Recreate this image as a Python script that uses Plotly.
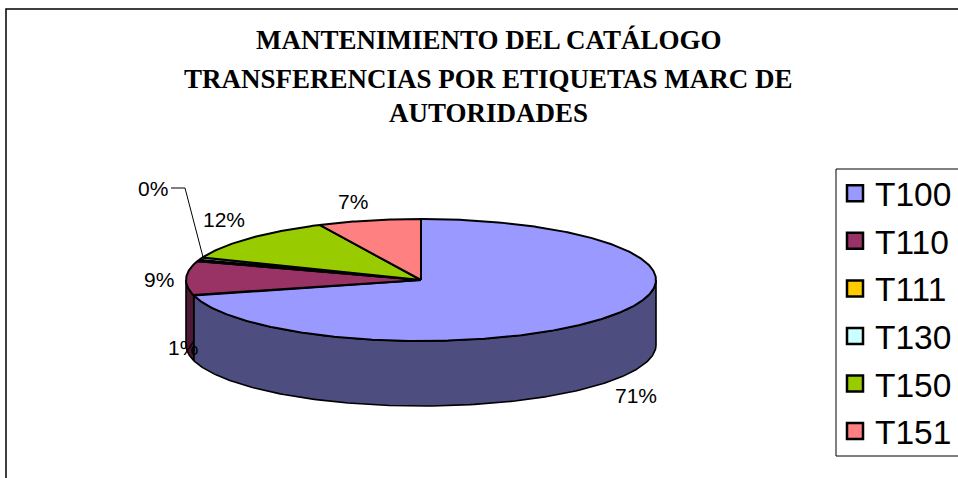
import numpy as np
import plotly.graph_objects as go

categories = ["T100", "T110", "T111", "T130", "T150", "T151"]
values = [70.9, 9.1, 0.4, 0.6, 11.9, 7.1]
pct_labels = ["71%", "9%", "0%", "1%", "12%", "7%"]
top_colors = ["#9999FF", "#993366", "#FFCC00", "#CCFFFF", "#99CC00", "#FF8080"]
side_colors = ["#4D4D80", "#4D1933", "#806600", "#668080", "#4D6600", "#804040"]
title_lines = ["MANTENIMIENTO DEL CATÁLOGO", "TRANSFERENCIAS POR ETIQUETAS MARC DE", "AUTORIDADES"]

W, H = 958, 478
CX, CY, RX, RY, DEPTH = 421, 280, 235, 61, 65
LABEL_POS = [(636, 395), (159, 279), (153, 188), (183, 347), (224, 219), (353, 201)]
TITLE_Y = [40, 79, 113]
LEGEND_BOX = ([W, 836, 836, W], [169, 169, 456, 456])


def ex(t):
    return CX + RX * np.sin(t)


def ey(t):
    return CY - RY * np.cos(t)


total = sum(values)
edges = np.concatenate([[0], np.cumsum(values)]) / total * 2 * np.pi

fig = go.Figure()

# side walls, visible only on the front half of the disc
for i, name in enumerate(categories):
    a, b = max(edges[i], np.pi / 2), min(edges[i + 1], 3 * np.pi / 2)
    if b <= a:
        continue
    t = np.linspace(a, b, 160)
    xs = np.concatenate([ex(t), ex(t[::-1])])
    ys = np.concatenate([ey(t), ey(t[::-1]) + DEPTH])
    fig.add_trace(go.Scatter(x=np.append(xs, xs[0]), y=np.append(ys, ys[0]), mode="lines",
                             fill="toself", fillcolor=side_colors[i],
                             line=dict(color="black", width=1.6), showlegend=False, hoverinfo="skip"))

# top faces
for i, name in enumerate(categories):
    t = np.linspace(edges[i], edges[i + 1], max(3, int(values[i] * 6)))
    xs = np.concatenate([[CX], ex(t), [CX]])
    ys = np.concatenate([[CY], ey(t), [CY]])
    fig.add_trace(go.Scatter(x=xs, y=ys, mode="lines", fill="toself", fillcolor=top_colors[i],
                             line=dict(color="black", width=2), showlegend=False,
                             name=name, hoverinfo="name"))

# legend entries
for i, name in enumerate(categories):
    fig.add_trace(go.Scatter(x=[None], y=[None], mode="markers", name=name, legendgroup=name,
                             marker=dict(symbol="square", size=16, color=top_colors[i],
                                         line=dict(color="black", width=2.5))))

# leader line of the 0% label
fig.add_trace(go.Scatter(x=[171, 185, 203], y=[188, 188, 257], mode="lines",
                         line=dict(color="black", width=1), showlegend=False, hoverinfo="skip"))

# chart frame
fig.add_trace(go.Scatter(x=[6, 6, W], y=[H, 9, 9], mode="lines",
                         line=dict(color="black", width=1.5), showlegend=False, hoverinfo="skip"))

# legend frame
fig.add_trace(go.Scatter(x=LEGEND_BOX[0], y=LEGEND_BOX[1], mode="lines",
                         line=dict(color="black", width=1), showlegend=False, hoverinfo="skip"))

for txt, (x, y) in zip(pct_labels, LABEL_POS):
    fig.add_annotation(x=x, y=y, text=txt, showarrow=False, xanchor="center", yanchor="middle",
                       font=dict(family="Liberation Sans", size=21, color="black"))

for txt, y in zip(title_lines, TITLE_Y):
    fig.add_annotation(x=488.5, y=y, text="<b>" + txt + "</b>", showarrow=False, xanchor="center",
                       yanchor="middle", font=dict(family="Liberation Serif", size=27, color="black"))

fig.update_layout(
    width=W, height=H, margin=dict(l=0, r=0, t=0, b=0),
    autosize=False,
    paper_bgcolor="white", plot_bgcolor="white",
    xaxis=dict(range=[0, W], visible=False, fixedrange=True),
    yaxis=dict(range=[H, 0], visible=False, fixedrange=True),
    legend=dict(x=835 / W, y=1 - 165 / H, xanchor="left", yanchor="top",
                font=dict(family="Liberation Sans", size=33.5, color="black"),
                bgcolor="rgba(0,0,0,0)", borderwidth=0,
                tracegroupgap=1, itemclick=False, itemdoubleclick=False),
    showlegend=True,
)

fig.write_html("out.html", config={"displayModeBar": False},
               post_script="document.body.style.margin='0';document.documentElement.style.overflow='hidden';")
